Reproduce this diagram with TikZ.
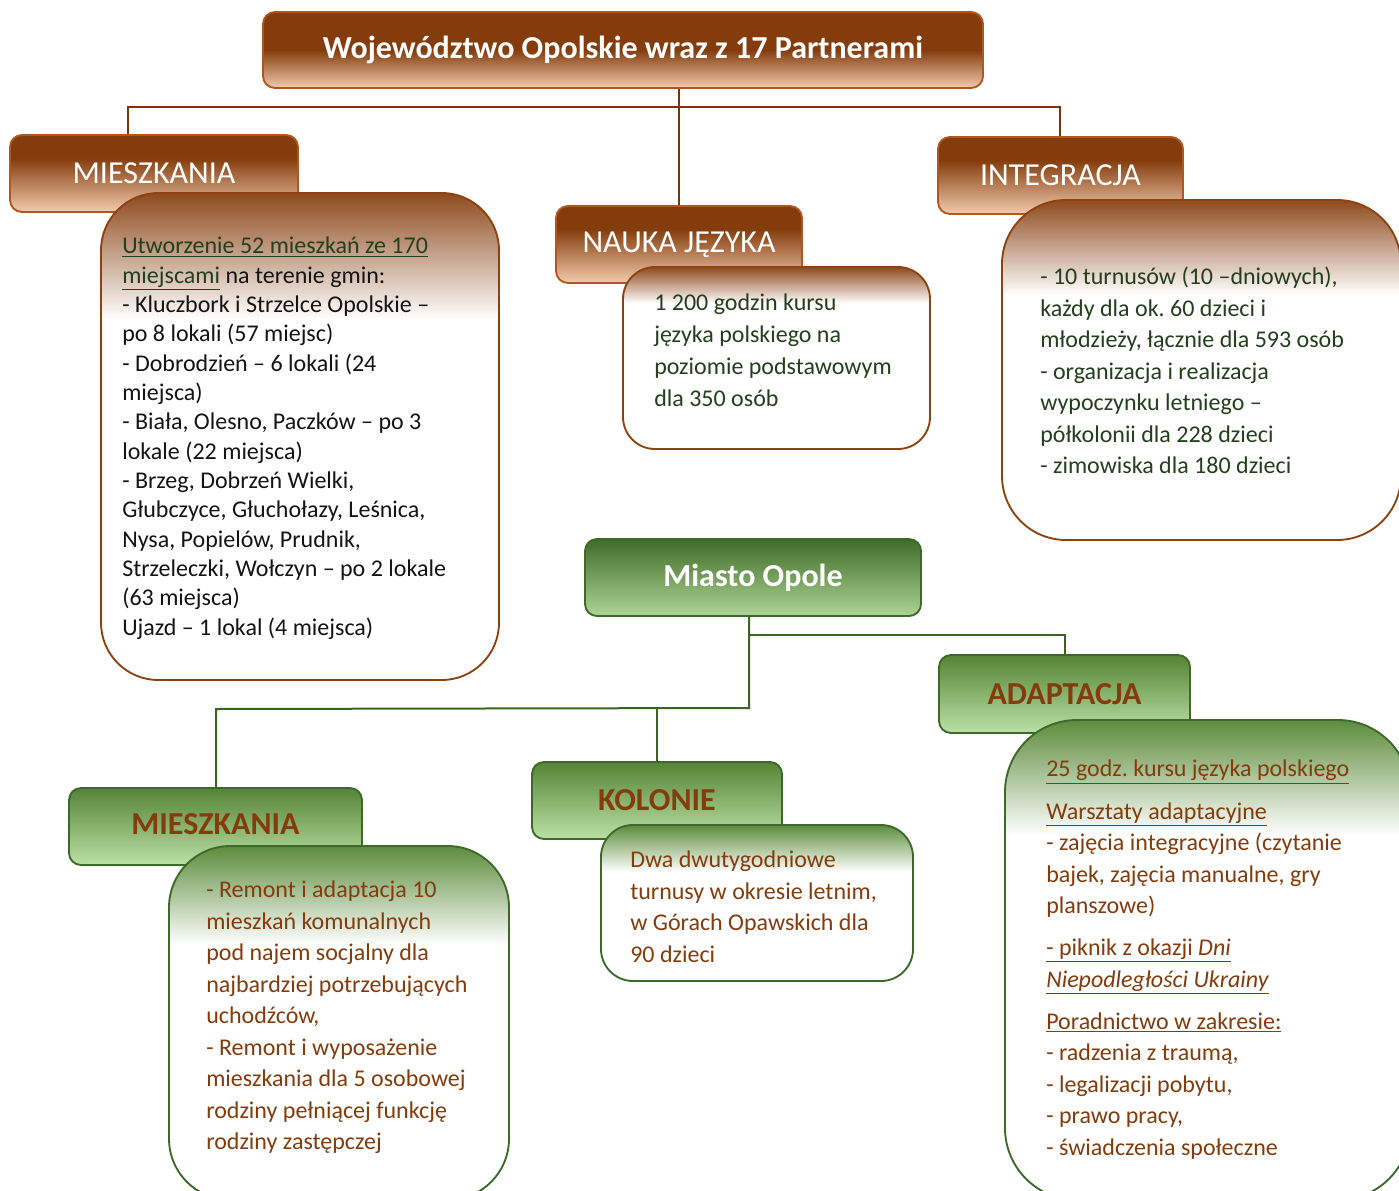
\documentclass[tikz,border=0pt]{standalone}
\usepackage{fontspec}
\setmainfont{Carlito}
\usetikzlibrary{calc}
\frenchspacing
\definecolor{brD}{HTML}{843C0C}
\definecolor{brT}{HTML}{8E4A1E}
\definecolor{brL}{HTML}{F2CBAE}
\definecolor{brB}{HTML}{B0561E}
\definecolor{brC}{HTML}{8E4210}
\definecolor{brLine}{HTML}{7A3608}
\definecolor{txG}{HTML}{233F1D}
\definecolor{txK}{HTML}{141414}
\definecolor{gD}{HTML}{3F6B27}
\definecolor{gM}{HTML}{69A23D}
\definecolor{gL}{HTML}{AED495}
\definecolor{gD2}{HTML}{548435}
\definecolor{gL2}{HTML}{BCE0A6}
\definecolor{gB}{HTML}{3D6A28}
\definecolor{gLine}{HTML}{3A6324}
\definecolor{gC}{HTML}{5C8C3C}
% fades: #2 = 75 - 50*fraction from top
\newcommand\mkfade[3]{\pgfdeclareverticalshading{#1}{100bp}{color(0bp)=(white); color(25bp)=(white); color(#2bp)=(white); color(75bp)=(#3); color(100bp)=(#3)}}
\mkfade{fadeM}{62}{brT}
\mkfade{fadeN}{65}{brT}
\mkfade{fadeI}{61}{brT}
\mkfade{fadeA}{63}{gC}
\mkfade{fadeK}{60}{gC}
\mkfade{fadeMM}{61}{gC}
\pgfdeclareverticalshading{hdrB}{100bp}{color(0bp)=(brL); color(25bp)=(brL); color(60bp)=(brD); color(75bp)=(brD); color(100bp)=(brD)}
\pgfdeclareverticalshading{hdrT}{100bp}{color(0bp)=(brL); color(25bp)=(brL); color(50bp)=(brD); color(75bp)=(brD); color(100bp)=(brD)}
\begin{document}
\begin{tikzpicture}[x=0.75pt,y=-0.75pt,
  bline/.style={draw=brLine, line width=1.5pt},
  gline/.style={draw=gLine, line width=1.5pt},
  bhead/.style={draw=brB, line width=1.4pt, rounded corners=9pt, shade, shading=hdrB, inner sep=0pt,
    text=white, font=\fontsize{24}{28}\selectfont},
  ghead/.style={draw=gB, line width=1.4pt, rounded corners=9pt, inner sep=0pt,
    top color=gD2, middle color=gM, bottom color=gL2,
    text=brD, font=\bfseries\fontsize{24}{28}\selectfont},
  cbrown/.style={draw=brC, line width=1.4pt, inner sep=0pt, shade, shading=#1},
  cgreen/.style={draw=gB, line width=1.4pt, inner sep=0pt, shade, shading=#1},
  btxt/.style={anchor=north west, align=left, inner sep=0pt, font=\fontsize{18}{22}\selectfont},
  ltxt/.style={anchor=north west, align=left, inner sep=0pt, font=\fontsize{18}{23.6}\selectfont},
]
\useasboundingbox (0,0) rectangle (1399,1191);
\clip (0,0) rectangle (1399,1191);

% bus coordinates
\coordinate (bL) at (128,107);
\coordinate (bR) at (1060,107);
\coordinate (gA) at (749,708);
\coordinate (gB) at (749,635);
\coordinate (gC) at (1065,635);
\coordinate (gLf) at (216,709);
\coordinate (gK) at (657,709);

% ---------- top part ----------
\node[bhead, shading=hdrT, minimum width=540pt, minimum height=57pt, font=\bfseries\fontsize{24}{28}\selectfont] (title) at (623,50) {Województwo Opolskie wraz z 17 Partnerami};
\node[bhead, minimum width=216pt, minimum height=57.75pt] (mh) at (154,173.5) {MIESZKANIA};
\node[bhead, minimum width=184.5pt, minimum height=57.75pt] (nh) at (679,244.5) {NAUKA JĘZYKA};
\node[bhead, minimum width=183.75pt, minimum height=57.75pt] (ih) at (1060.5,175.5) {INTEGRACJA};

\draw[bline] (title.south -| nh.north) -- (nh.north);
\draw[bline] (mh.north -| bL) -- (bL) -- (bR) -- (ih.north -| bR);

\node[cbrown=fadeM, rounded corners=43pt, minimum width=298.5pt, minimum height=365.25pt] (mc) at (300,436.5) {};
\node[cbrown=fadeN, rounded corners=24pt, minimum width=230.25pt, minimum height=136.5pt] (nc) at (776.5,358) {};
\node[cbrown=fadeI, rounded corners=48pt, minimum width=299.25pt, minimum height=255pt] (ic) at (1201.5,370) {};

\node[btxt, text=txK] (mt) at (122,237) {\textcolor{txG}{\underline{Utworzenie 52 mieszkań ze 170}}\\
\textcolor{txG}{\underline{miejscami}} na terenie gmin:\\
- Kluczbork i Strzelce Opolskie –\\
po 8 lokali (57 miejsc)\\
- Dobrodzień – 6 lokali (24\\
miejsca)\\
- Biała, Olesno, Paczków – po 3\\
lokale (22 miejsca)\\
- Brzeg, Dobrzeń Wielki,\\
Głubczyce, Głuchołazy, Leśnica,\\
Nysa, Popielów, Prudnik,\\
Strzeleczki, Wołczyn – po 2 lokale\\
(63 miejsca)\\
Ujazd – 1 lokal (4 miejsca)};

\node[ltxt, text=txG, font=\fontsize{18}{24}\selectfont] (nt) at (654,294) {1 200 godzin kursu\\
języka polskiego na\\
poziomie podstawowym\\
dla 350 osób};

\node[ltxt, text=txG] (it) at (1040,267) {- 10 turnusów (10 –dniowych),\\
każdy dla ok. 60 dzieci i\\
młodzieży, łącznie dla 593 osób\\
- organizacja i realizacja\\
wypoczynku letniego –\\
półkolonii dla 228 dzieci\\
- zimowiska dla 180 dzieci};

% ---------- bottom part ----------
\node[ghead, minimum width=252pt, minimum height=57.75pt, top color=gD, middle color=gM, bottom color=gL, text=white] (op) at (753,577.5) {Miasto Opole};
\node[ghead, minimum width=188.25pt, minimum height=58.5pt] (ah) at (1064.5,694) {ADAPTACJA};
\node[ghead, minimum width=187.5pt, minimum height=57.75pt] (kh) at (657,800.5) {KOLONIE};
\node[ghead, minimum width=219.75pt, minimum height=57.75pt] (m2h) at (215.5,826.5) {\raisebox{3pt}{MIESZKANIA}};

\draw[gline] (op.south -| gA) -- (gA) -- (gLf) -- (m2h.north -| gLf);
\draw[gline] (gB) -- (gC) -- (ah.north -| gC);
\draw[gline] (gK) -- (kh.north -| gK);

\node[cgreen=fadeA, rounded corners=54pt, minimum width=303.75pt, minimum height=360pt] (ac) at (1207.5,960) {};
\node[cgreen=fadeK, rounded corners=24pt, minimum width=234pt, minimum height=117pt] (kc) at (757,903) {};
\node[cgreen=fadeMM, rounded corners=46pt, minimum width=255pt, minimum height=265.5pt] (m2c) at (339,1023) {};

\node[ltxt, text=brD] (m2t) at (206,881) {- Remont i adaptacja 10\\
mieszkań komunalnych\\
pod najem socjalny dla\\
najbardziej potrzebujących\\
uchodźców,\\
- Remont i wyposażenie\\
mieszkania dla 5 osobowej\\
rodziny pełniącej funkcję\\
rodziny zastępczej};

\node[ltxt, text=brD] (kt) at (630,851) {Dwa dwutygodniowe\\
turnusy w okresie letnim,\\
w Górach Opawskich dla\\
90 dzieci};

\node[ltxt, text=brD] (at) at (1046,760) {\underline{25 godz. kursu języka polskiego}\\[8pt]
\underline{Warsztaty adaptacyjne}\\
- zajęcia integracyjne (czytanie\\
bajek, zajęcia manualne, gry\\
planszowe)\\[8pt]
\underline{- piknik z okazji \textit{Dni}}\\
\underline{\textit{Niepodległości Ukrainy}}\\[8pt]
\underline{Poradnictwo w zakresie:}\\
- radzenia z traumą,\\
- legalizacji pobytu,\\
- prawo pracy,\\
- świadczenia społeczne};
\end{tikzpicture}
\end{document}
